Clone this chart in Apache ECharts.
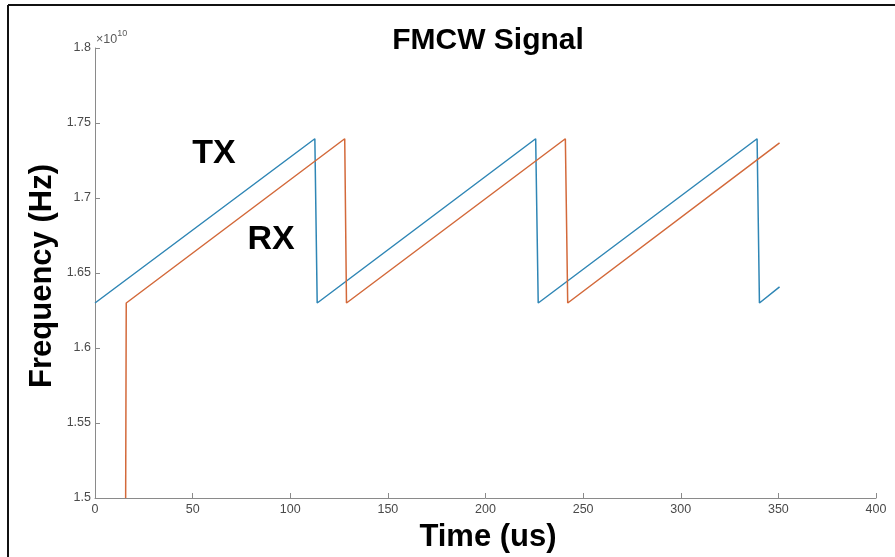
<!DOCTYPE html>
<html>
<head>
<meta charset="utf-8">
<script src="https://cdn.jsdelivr.net/npm/echarts@6/dist/echarts.min.js"></script>
<style>
	html, body { margin: 0; padding: 0; background: #fff; }
	#chart { width: 895px; height: 557px; }
</style>
</head>
<body>
<div id="chart"></div>
<script>
// tiempo en us, frecuencia en unidades de 1e10 Hz
const txTime = [0, 112.6, 113.8, 225.7, 227, 339.1, 340.3, 350.6]
const txFreq = [1.63, 1.7395, 1.63, 1.7395, 1.63, 1.7395, 1.63, 1.6407]
const rxTime = [15.7, 16, 127.9, 128.8, 240.9, 242.1, 350.6]
const rxFreq = [1.5, 1.63, 1.7395, 1.63, 1.7395, 1.63, 1.7367]
const yTicks = ['1.5', '1.55', '1.6', '1.65', '1.7', '1.75', '1.8']

const font = '"Liberation Sans", Arial, sans-serif'
const axisGray = '#8a8a8a'

const chart = echarts.init(document.getElementById('chart'))

const pairs = (xs, ys) => xs.map((x, i) => [x, ys[i]])

chart.setOption({
	animation: false,
	grid: { left: 95, right: 19, top: 48, bottom: 59 },
	xAxis: {
		type: 'value',
		min: 0,
		max: 400,
		interval: 50,
		axisLine: { lineStyle: { color: axisGray, width: 1 } },
		axisTick: { inside: true, length: 5, lineStyle: { color: axisGray } },
		splitLine: { show: false },
		axisLabel: { color: '#4a4a4a', fontSize: 12.5, fontFamily: font, margin: 5 },
	},
	yAxis: {
		type: 'value',
		min: 1.5,
		max: 1.8,
		interval: 0.05,
		axisLine: { show: true, lineStyle: { color: axisGray, width: 1 } },
		axisTick: { show: true, inside: true, length: 5, lineStyle: { color: axisGray } },
		splitLine: { show: false },
		axisLabel: {
			color: '#4a4a4a',
			fontSize: 12.5,
			fontFamily: font,
			margin: 4,
			formatter: (v) => yTicks[Math.round((v - 1.5) / 0.05)],
		},
	},
	series: [
		{
			name: 'TX',
			type: 'line',
			data: pairs(txTime, txFreq),
			showSymbol: false,
			lineStyle: { color: '#2f86b5', width: 1.5 },
		},
		{
			name: 'RX',
			type: 'line',
			data: pairs(rxTime, rxFreq),
			showSymbol: false,
			lineStyle: { color: '#d3693a', width: 1.5 },
		},
	],
	graphic: [
		// marco
		{ type: 'line', shape: { x1: 8, y1: 5, x2: 895, y2: 5 }, style: { stroke: '#111', lineWidth: 2 } },
		{ type: 'line', shape: { x1: 8, y1: 5, x2: 8, y2: 557 }, style: { stroke: '#111', lineWidth: 2 } },
		{
			type: 'text', position: [488, 41],
			style: { text: 'FMCW Signal', align: 'center', verticalAlign: 'middle', font: 'bold 30px ' + font, fill: '#000' },
		},
		{
			type: 'text', position: [214, 154],
			style: { text: 'TX', align: 'center', verticalAlign: 'middle', font: 'bold 34px ' + font, fill: '#000' },
		},
		{
			type: 'text', position: [271, 240],
			style: { text: 'RX', align: 'center', verticalAlign: 'middle', font: 'bold 34px ' + font, fill: '#000' },
		},
		{
			type: 'text', position: [42, 276], rotation: Math.PI / 2,
			style: { text: 'Frequency (Hz)', align: 'center', verticalAlign: 'middle', font: 'bold 31px ' + font, fill: '#000' },
		},
		{
			type: 'text', position: [488, 537],
			style: { text: 'Time (us)', align: 'center', verticalAlign: 'middle', font: 'bold 31px ' + font, fill: '#000' },
		},
		{
			type: 'text', position: [96, 46],
			style: {
				text: '{a|×10}{b|10}',
				rich: {
					a: { fontSize: 12.5, fontFamily: font, fill: '#5a5a5a', verticalAlign: 'bottom' },
					b: { fontSize: 9, fontFamily: font, fill: '#5a5a5a', verticalAlign: 'top', padding: [0, 0, 8, 0] },
				},
				verticalAlign: 'bottom',
			},
		},
	],
})
</script>
</body>
</html>
